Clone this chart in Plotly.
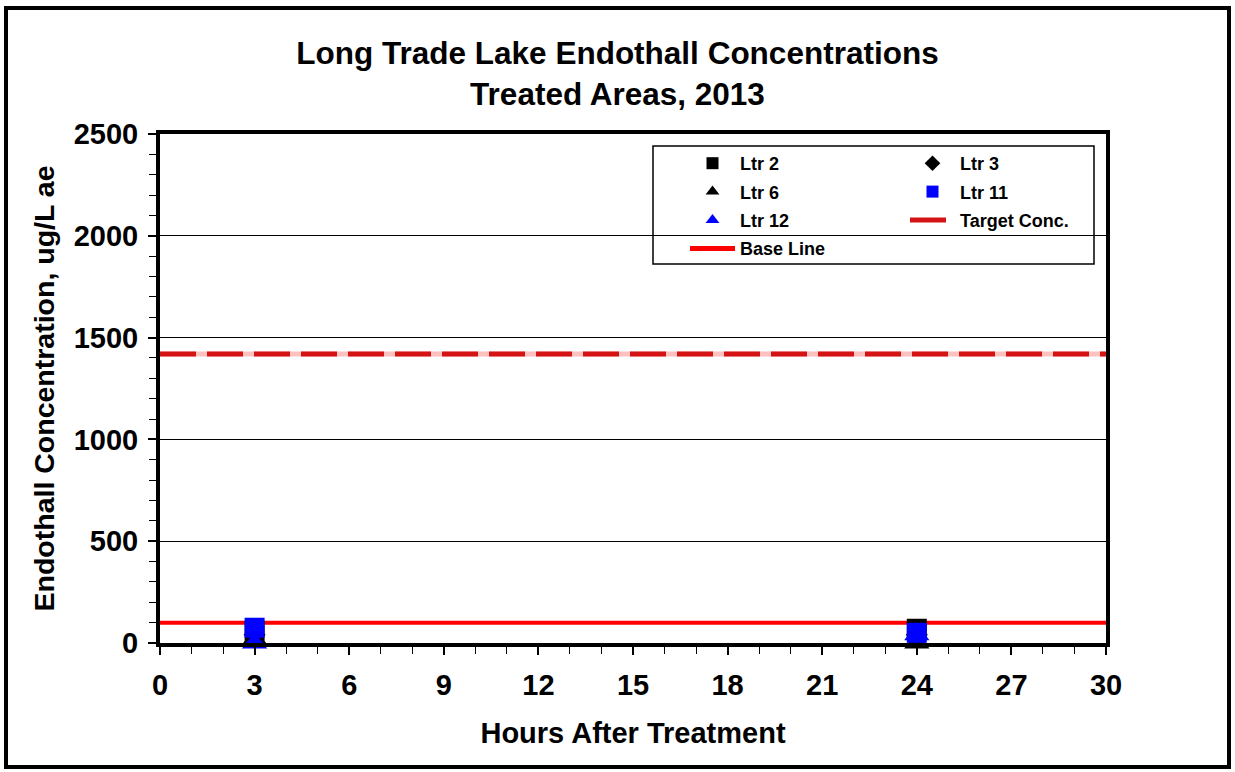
import plotly.graph_objects as go

# ---- data ----
hours = [3, 24]
ltr2 = [60, 70]
ltr3 = [40, 40]
ltr6 = [20, 0]
ltr11 = [75, 50]
ltr12 = [0, 40]
line_x = [0, 30]
target_conc = [1420, 1420]
base_line = [100, 100]

W, H = 1235, 772
L, R, T, B = 160, 129, 134, 129
PW, PH = W - L - R, H - T - B

def px(xp):
    return (xp - L) / PW

def py(yp):
    return 1 - (yp - T) / PH

FONT = "Liberation Sans, Arial, sans-serif"

fig = go.Figure()

# reference lines
fig.add_trace(go.Scatter(x=line_x, y=target_conc, mode="lines",
                         line=dict(color="#FFC0C0", width=5),
                         showlegend=False, hoverinfo="skip"))
fig.add_trace(go.Scatter(x=line_x, y=target_conc, mode="lines", name="Target Conc.",
                         line=dict(color="#D41414", width=5, dash="36px,11px"),
                         legend="legend2", legendrank=6, legendgroup="g6"))
fig.add_trace(go.Scatter(x=line_x, y=base_line, mode="lines", name="Base Line",
                         line=dict(color="#FF0000", width=4),
                         legend="legend", legendrank=7, legendgroup="g7"))

# sample series
series = [
    ("Ltr 2", ltr2, "square", "black", 20, "legend", 1),
    ("Ltr 3", ltr3, "diamond", "black", 17, "legend2", 2),
    ("Ltr 6", ltr6, "triangle-up", "black", 22, "legend", 3),
    ("Ltr 11", ltr11, "square", "#0000FF", 20, "legend2", 4),
    ("Ltr 12", ltr12, "triangle-up", "#0000FF", 22, "legend", 5),
]
for name, vals, sym, col, size, lg, rank in series:
    fig.add_trace(go.Scatter(x=hours, y=vals, mode="markers", name=name,
                             marker=dict(symbol=sym, color=col, size=size,
                                         line=dict(width=0)),
                             cliponaxis=False,
                             legend=lg, legendrank=rank, legendgroup="g%d" % rank))

legend_common = dict(bgcolor="rgba(0,0,0,0)", borderwidth=0, yanchor="top",
                     xanchor="left", orientation="v", itemwidth=45,
                     tracegroupgap=2, traceorder="grouped", itemsizing="constant",
                     font=dict(family=FONT, size=18, color="black", weight="bold"))

fig.update_layout(
    width=W, height=H,
    margin=dict(l=L, r=R, t=T, b=B, autoexpand=False),
    paper_bgcolor="white", plot_bgcolor="white",
    font=dict(family=FONT, color="black"),
    title=dict(text="<b>Long Trade Lake Endothall Concentrations<br>Treated Areas, 2013</b>",
               x=0.5, xref="container", xanchor="center", y=1 - 64 / H, yref="container",
               yanchor="top", font=dict(family=FONT, size=31.5, color="black")),
    legend=dict(x=px(685), y=py(145), **legend_common),
    legend2=dict(x=px(905), y=py(145), **legend_common),
    shapes=[
        dict(type="rect", xref="paper", yref="paper", x0=px(653), x1=px(1094),
             y0=py(146), y1=py(264), line=dict(color="black", width=1.5),
             fillcolor="rgba(0,0,0,0)", layer="above"),
        dict(type="rect", xref="paper", yref="paper", x0=px(6), x1=px(1229),
             y0=py(8), y1=py(767), line=dict(color="black", width=4),
             fillcolor="rgba(0,0,0,0)"),
    ],
)

fig.update_xaxes(range=[0, 30], tickmode="linear", tick0=0, dtick=3,
                 showgrid=False, zeroline=False,
                 showline=True, linecolor="black", linewidth=4, mirror=True,
                 ticks="outside", ticklen=8, tickwidth=1.5, tickcolor="black",
                 minor=dict(dtick=1, ticks="outside", ticklen=7, tickwidth=1, tickcolor="black"),
                 tickfont=dict(family=FONT, size=29, color="black", weight="bold"),
                 ticklabelstandoff=5,
                 title=dict(text="<b>Hours After Treatment</b>", standoff=24,
                            font=dict(family=FONT, size=29, color="black")))

fig.update_yaxes(range=[0, 2500], tickmode="linear", tick0=0, dtick=500,
                 showgrid=True, gridcolor="black", gridwidth=1, zeroline=False,
                 showline=True, linecolor="black", linewidth=4, mirror=True,
                 ticks="outside", ticklen=8, tickwidth=1.5, tickcolor="black",
                 minor=dict(dtick=100, ticks="outside", ticklen=7, tickwidth=1,
                            tickcolor="black", showgrid=False),
                 tickfont=dict(family=FONT, size=29, color="black", weight="bold"),
                 ticklabelstandoff=4,
                 title=dict(text="<b>Endothall Concentration, ug/L ae</b>", standoff=12,
                            font=dict(family=FONT, size=28.5, color="black")))

fig.write_html("out.html", config={"displayModeBar": False},
               post_script="document.body.style.margin='0';")
